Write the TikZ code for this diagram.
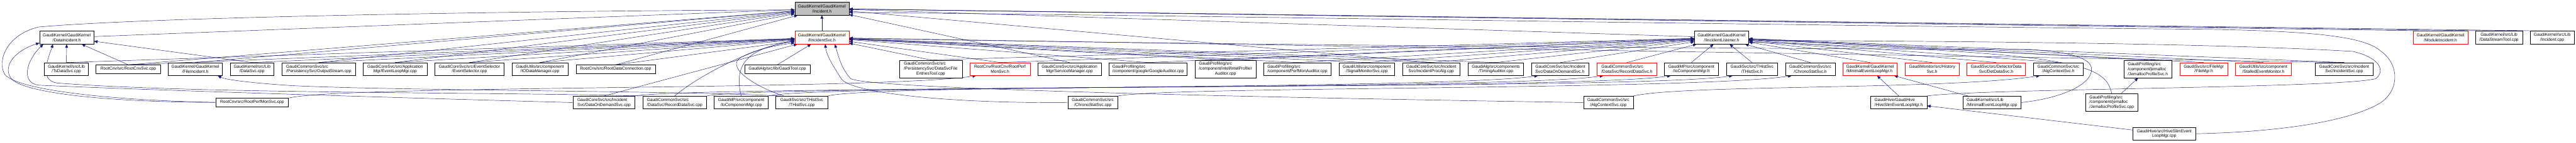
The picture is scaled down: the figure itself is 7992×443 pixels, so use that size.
\documentclass[tikz,border=0pt]{standalone}
\usepackage{fontspec}
\setmainfont{Liberation Sans}
\usetikzlibrary{arrows.meta}
\definecolor{edgeblue}{HTML}{191970}
\definecolor{rootgray}{HTML}{BFBFBF}
\pgfdeclarelayer{edges}
\pgfsetlayers{edges,main}
\tikzset{
  file/.style={draw=black, line width=1pt, fill=white, align=center,
    font=\fontsize{13}{15}\selectfont, inner xsep=4pt, inner ysep=2pt,
    minimum height=40pt},
  lfile/.style={file, align=left},
  oneline/.style={minimum height=26pt},
  threeline/.style={minimum height=55pt},
  cut/.style={draw=red},
  inc/.style={color=edgeblue, line width=0.9pt, -{Triangle[length=11pt,width=9pt]}}
}
\begin{document}
\begin{tikzpicture}[x=1pt,y=-1pt]
\useasboundingbox (0,0) rectangle (7992,443);

% top
\node[file, fill=rootgray, minimum width=168pt] (incident) at (2550,27) {GaudiKernel/GaudiKernel\\/Incident.h};
\node[file, minimum width=168pt] (dataincident) at (207,117) {GaudiKernel/GaudiKernel\\/DataIncident.h};
\node[file, cut, minimum width=168pt] (iincidentsvc) at (2550,117) {GaudiKernel/GaudiKernel\\/IIncidentSvc.h};
\node[file, minimum width=168pt] (ilistener) at (5341,117) {GaudiKernel/GaudiKernel\\/IIncidentListener.h};
\node[file, cut, minimum width=169pt] (moduleincident) at (7571.5,117) {GaudiKernel/GaudiKernel\\/ModuleIncident.h};
\node[file, minimum width=146pt] (streamtool) at (7753,117) {GaudiKernel/src/Lib\\/DataStreamTool.cpp};
\node[file, minimum width=136pt] (incidentcpp) at (7918,117) {GaudiKernel/src/Lib\\/Incident.cpp};

% middle row
\node[file, minimum width=136pt] (tsdatasvc) at (206,215) {GaudiKernel/src/Lib\\/TsDataSvc.cpp};
\node[file, oneline, minimum width=200pt] (rootcnvsvc) at (398,215) {RootCnv/src/RootCnvSvc.cpp};
\node[file, minimum width=168pt] (fileincident) at (606,215) {GaudiKernel/GaudiKernel\\/FileIncident.h};
\node[file, minimum width=136pt] (datasvc) at (782,215) {GaudiKernel/src/Lib\\/DataSvc.cpp};
\node[lfile, minimum width=228pt] (outputstream) at (989,215) {GaudiCommonSvc/src\\/PersistencySvc/OutputStream.cpp};
\node[file, minimum width=198pt] (eventloopmgr) at (1226,215) {GaudiCoreSvc/src/Application\\Mgr/EventLoopMgr.cpp};
\node[file, minimum width=215pt] (eventselector) at (1456.5,215) {GaudiCoreSvc/src/EventSelector\\/EventSelector.cpp};
\node[file, minimum width=174pt] (iodatamanager) at (1675,215) {GaudiUtils/src/component\\/IODataManager.cpp};
\node[file, oneline, minimum width=246pt] (rootdataconn) at (1910,215) {RootCnv/src/RootDataConnection.cpp};
\node[file, oneline, minimum width=203pt] (gauditool) at (2411.5,215) {GaudiAlg/src/lib/GaudiTool.cpp};
\node[lfile, threeline, minimum width=195pt] (fileentries) at (2887.5,214.5) {GaudiCommonSvc/src\\/PersistencySvc/DataSvcFile\\\null\hfil EntriesTool.cpp};
\node[file, cut, minimum width=187pt] (perfmonsvch) at (3102.5,215) {RootCnv/RootCnv/RootPerf\\MonSvc.h};
\node[file, minimum width=198pt] (servicemgr) at (3318,215) {GaudiCoreSvc/src/Application\\Mgr/ServiceManager.cpp};
\node[lfile, minimum width=242pt] (googleauditor) at (3562,215) {GaudiProfiling/src\\/component/google/GoogleAuditor.cpp};
\node[lfile, threeline, minimum width=188pt] (intelauditor) at (3802,214.5) {GaudiProfiling/src\\/component/intel/IntelProfiler\\\null\hfil Auditor.cpp};
\node[lfile, minimum width=210pt] (perfmonauditor) at (4025,215) {GaudiProfiling/src\\/component/PerfMonAuditor.cpp};
\node[file, minimum width=173pt] (signalmonitor) at (4240.5,215) {GaudiUtils/src/component\\/SignalMonitorSvc.cpp};
\node[file, minimum width=179pt] (procalg) at (4440.5,215) {GaudiCoreSvc/src/Incident\\Svc/IncidentProcAlg.cpp};
\node[file, minimum width=172pt] (timingauditor) at (4641,215) {GaudiAlg/src/components\\/TimingAuditor.cpp};
\node[lfile, minimum width=178pt] (ondemandh) at (4841,215) {GaudiCoreSvc/src/Incident\\Svc/DataOnDemandSvc.h};
\node[lfile, cut, minimum width=185pt] (recordsvch) at (5047.5,215) {GaudiCommonSvc/src\\/DataSvc/RecordDataSvc.h};
\node[file, minimum width=167pt] (iocomph) at (5247.5,215) {GaudiMP/src/component\\/IoComponentMgr.h};
\node[file, minimum width=159pt] (histsvch) at (5435.5,215) {GaudiSvc/src/THistSvc\\/THistSvc.h};
\node[file, minimum width=155pt] (chronoh) at (5616.5,215) {GaudiCommonSvc/src\\/ChronoStatSvc.h};
\node[lfile, cut, minimum width=168pt] (minimalh) at (5802,215) {GaudiKernel/GaudiKernel\\/MinimalEventLoopMgr.h};
\node[file, cut, minimum width=167pt] (historyh) at (5994.5,215) {GaudiMonitor/src/History\\Svc.h};
\node[file, cut, minimum width=182pt] (detdatah) at (6193,215) {GaudiSvc/src/DetectorData\\Svc/DetDataSvc.h};
\node[file, minimum width=154pt] (algcontexth) at (6386,215) {GaudiCommonSvc/src\\/AlgContextSvc.h};
\node[lfile, threeline, minimum width=149pt] (jemallocsvch) at (6663.5,214.5) {GaudiProfiling/src\\/component/jemalloc\\/JemallocProfileSvc.h};
\node[file, cut, minimum width=148pt] (filemgrh) at (6837,215) {GaudiSvc/src/FileMgr\\/FileMgr.h};
\node[file, cut, minimum width=174pt] (stalledh) at (7022,215) {GaudiUtils/src/component\\/StalledEventMonitor.h};
\node[file, minimum width=179pt] (incidentsvccpp) at (7272.5,215) {GaudiCoreSvc/src/Incident\\Svc/IncidentSvc.cpp};

% lower rows
\node[file, oneline, minimum width=226pt] (perfmonsvccpp) at (782,318.5) {RootCnv/src/RootPerfMonSvc.cpp};
\node[lfile, minimum width=192pt] (ondemandcpp) at (1874,319) {GaudiCoreSvc/src/Incident\\Svc/DataOnDemandSvc.cpp};
\node[lfile, minimum width=198pt] (recordsvccpp) at (2093,319) {GaudiCommonSvc/src\\/DataSvc/RecordDataSvc.cpp};
\node[file, minimum width=167pt] (iocompcpp) at (2299.5,319) {GaudiMP/src/component\\/IoComponentMgr.cpp};
\node[file, minimum width=161pt] (histsvccpp) at (2487.5,319) {GaudiSvc/src/THistSvc\\/THistSvc.cpp};
\node[file, minimum width=155pt] (chronocpp) at (3390.5,319) {GaudiCommonSvc/src\\/ChronoStatSvc.cpp};
\node[file, minimum width=154pt] (algcontextcpp) at (4990,319) {GaudiCommonSvc/src\\/AlgContextSvc.cpp};
\node[lfile, minimum width=175pt] (hiveh) at (5890.5,319) {GaudiHive/GaudiHive\\/HiveSlimEventLoopMgr.h};
\node[lfile, minimum width=180pt] (minimalcpp) at (6180,319) {GaudiKernel/src/Lib\\/MinimalEventLoopMgr.cpp};
\node[lfile, threeline, minimum width=163pt] (jemallocsvccpp) at (6551.5,318.5) {GaudiProfiling/src\\/component/jemalloc\\/JemallocProfileSvc.cpp};
\node[file, minimum width=195pt] (hivecpp) at (6714.5,416) {GaudiHive/src/HiveSlimEvent\\LoopMgr.cpp};

\begin{pgfonlayer}{edges}
\fill[white] (0,0) rectangle (7992,443);
\draw[inc] (iincidentsvc) -- (incident);
\draw[inc] (dataincident) -- (incident);
\draw[inc] (ilistener) -- (incident);
\foreach \s in {fileincident,rootcnvsvc,outputstream,eventloopmgr,eventselector,iodatamanager,rootdataconn,servicemgr,procalg,moduleincident,streamtool,incidentcpp}
  \draw[inc] (\s.north) -- (incident);
\foreach \s in {tsdatasvc,rootcnvsvc,datasvc}
  \draw[inc] (\s.north) -- (dataincident);
\foreach \s in {tsdatasvc,rootcnvsvc,datasvc,outputstream,eventloopmgr,eventselector,iodatamanager,rootdataconn,gauditool,ondemandcpp,fileentries,perfmonsvch,googleauditor,intelauditor,perfmonauditor,signalmonitor,procalg,timingauditor,incidentsvccpp}
  \draw[inc] (\s.north) -- (iincidentsvc);
\foreach \s in {fileentries,perfmonsvch,googleauditor,intelauditor,perfmonauditor,signalmonitor,procalg,timingauditor,ondemandh,recordsvch,iocomph,histsvch,chronoh,minimalh,historyh,detdatah,algcontexth,jemallocsvch,filemgrh,stalledh,incidentsvccpp}
  \draw[inc] (\s.north) -- (ilistener);
\foreach \s/\tg/\h in {perfmonsvccpp/perfmonsvch/40,ondemandcpp/ondemandh/30,recordsvccpp/recordsvch/34,iocompcpp/iocomph/38,histsvccpp/histsvch/42,chronocpp/chronoh/30,algcontextcpp/algcontexth/36}
  \draw[inc] (\s.north east) .. controls +(160,-\h) and +(-300,45) .. ([xshift=20pt]\tg.south west);
\draw[inc] (hiveh.north) -- (minimalh);
\draw[inc] (minimalcpp) -- (minimalh);
\draw[inc] (jemallocsvccpp) -- (jemallocsvch);
\draw[inc] (hivecpp) -- (hiveh);

% loops on the left
\draw[inc] (perfmonsvccpp.west) .. controls (350,312) and (60,282) .. (15,232) .. controls (-10,190) and (20,108) .. (120,84) .. controls (500,50) and (1800,32) .. ([yshift=-4pt]incident.west);
\draw[inc] (perfmonsvccpp.west) .. controls (350,318) and (90,292) .. (38,248) .. controls (5,212) and (40,160) .. ([yshift=4pt]dataincident.south west);
\draw[inc] (ondemandcpp.west) .. controls (1300,306) and (500,282) .. (120,265) .. controls (65,258) and (80,190) .. ([xshift=12pt]dataincident.south west);
\draw[inc] (recordsvccpp.north west) .. controls (1500,286) and (600,292) .. (175,258) .. controls (120,248) and (150,180) .. ([xshift=42pt]dataincident.south west);
\draw[inc] ([xshift=15pt]histsvccpp.north west) .. controls (2100,282) and (1200,282) .. (900,266) .. controls (780,258) and (700,248) .. ([xshift=-15pt]fileincident.south east);
\draw[inc] (recordsvccpp.north) .. controls (2150,250) and (2300,160) .. ([yshift=-8pt]iincidentsvc.west);
\draw[inc] (iocompcpp.north) .. controls (2275,200) and (2320,150) .. ([yshift=-12pt]iincidentsvc.west);
\draw[inc] ([xshift=25pt]histsvccpp.north west) .. controls (2330,265) and (2250,205) .. (2300,178) .. controls (2350,150) and (2420,140) .. ([yshift=-16pt]iincidentsvc.west);
\draw[inc] (chronocpp.west) .. controls (2950,322) and (2640,290) .. (2610,245) .. controls (2585,205) and (2565,175) .. ([xshift=10pt]iincidentsvc.south);
\draw[inc] (algcontextcpp.west) .. controls (4000,305) and (2700,278) .. (2640,245) .. controls (2610,215) and (2600,170) .. ([xshift=40pt]iincidentsvc.south);

% loops on the right
\draw[inc] (minimalcpp.east) .. controls (6400,305) and (6490,262) .. (6489,215) .. controls (6488,180) and (6420,162) .. (6300,154) .. controls (5000,150) and (3500,135) .. ([yshift=-2pt]iincidentsvc.east);
\draw[inc] (jemallocsvccpp.north) .. controls (6530,200) and (6450,165) .. ([yshift=-14pt]ilistener.east);
\draw[inc] (hiveh.north east) .. controls (6150,275) and (7250,275) .. (7370,245) .. controls (7398,225) and (7392,182) .. (7300,160) .. controls (6800,130) and (5800,128) .. ([yshift=-8pt]ilistener.east);
\draw[inc] (hivecpp.east) .. controls (7100,410) and (7300,372) .. (7385,320) .. controls (7445,280) and (7445,200) .. (7385,158) .. controls (7330,110) and (7150,92) .. (6700,90) .. controls (5000,72) and (3500,45) .. ([yshift=-12pt]incident.east);
\end{pgfonlayer}
\end{tikzpicture}
\end{document}
